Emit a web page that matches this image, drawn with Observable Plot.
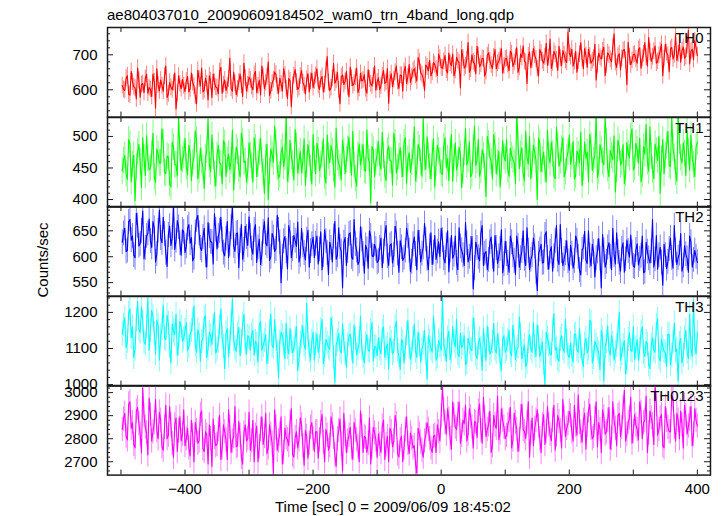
<!DOCTYPE html>
<html><head><meta charset="utf-8">
<script src="https://cdn.jsdelivr.net/npm/d3@7"></script>
<script src="https://cdn.jsdelivr.net/npm/@observablehq/plot@0.6"></script>
<style>
body{margin:0;background:#fff;}
#chart{position:relative;width:723px;height:516px;font-family:"Liberation Sans",Arial,sans-serif;color:#000;overflow:hidden;background:#fff}
.abs{position:absolute;white-space:nowrap;font-size:15px;line-height:15px;}
#chart svg{position:absolute;left:0;}
</style></head><body><div id="chart"></div>
<script>
const title = "ae804037010_20090609184502_wam0_trn_4band_long.qdp";
const xLabel = "Time [sec] 0 = 2009/06/09 18:45:02";
const yLabel = "Counts/sec";
const bandNames = ["TH0", "TH1", "TH2", "TH3", "TH0123"];
const bandColors = ["#ff0000", "#00ff00", "#0000ff", "#00ffff", "#ff00ff"];
// bins every 2 s: "A" arrays at -498, -494, ... 398 s; "B" arrays at -496, -492, ... 400 s
const timeStartA = -498, timeStartB = -496, timeStep = 4;
// typical 1-sigma error bar of a bin, per band (counts/sec)
const errBars = [24, 21, 24, 33, 53];

const th0A = [
612,598,640,585,622,605,662,579,618,633,590,601,645,548,614,628,596,668,588,607,620,545,639,603,611,
625,594,648,610,560,630,662,599,617,640,578,621,606,652,590,628,612,690,596,619,603,645,581,634,615,
628,600,652,611,585,638,620,680,597,629,644,590,617,660,603,632,552,641,622,607,655,612,630,594,648,
626,660,601,638,615,695,598,633,619,650,560,642,624,607,665,612,636,592,647,628,603,657,617,639,599,
634,611,655,622,562,646,629,668,604,641,652,618,672,636,660,625,680,643,598,665,684,650,672,641,690,
662,698,648,676,702,655,683,606,691,668,735,659,680,645,697,674,688,652,706,671,694,660,682,717,668,
690,655,703,678,720,664,692,681,618,708,686,699,660,715,683,694,670,745,677,701,655,690,712,684,765,
695,668,710,682,735,660,698,716,676,690,628,705,688,722,671,699,680,760,664,703,690,715,615,694,684,
702,676,720,690,735,668,708,694,725,681,712,640,730,698,716,688,758,703,679,722,695,770,710,686,720];
const th0B = [
601,633,588,652,609,574,627,615,592,644,606,581,623,660,597,612,639,578,621,600,648,590,617,629,595,
638,603,620,582,656,611,594,633,571,626,645,608,589,664,615,598,631,604,650,586,622,613,676,597,636,
609,644,592,627,668,603,637,584,619,651,610,633,597,642,575,626,613,658,601,639,620,588,646,624,606,
641,612,630,594,657,621,606,675,627,599,638,615,652,580,633,619,662,604,625,643,590,631,611,668,622,
600,640,618,661,628,609,650,623,642,596,667,637,621,655,641,692,649,632,671,654,640,678,659,702,663,
681,656,705,669,640,693,677,714,662,686,650,700,674,724,666,690,639,698,683,661,715,676,695,648,688,
672,711,667,693,650,702,725,679,697,663,718,688,640,705,676,733,692,661,710,686,724,669,700,678,705,
716,681,650,702,689,718,664,697,683,730,672,693,711,640,706,687,722,678,696,657,712,684,736,671,700,
688,715,662,703,693,749,681,710,676,698,730,689,706,652,721,700,684,733,712,690,727,674,716,740,698];
const th1A = [
445,470,432,488,455,398,476,460,498,438,465,450,505,427,472,458,490,441,467,420,483,455,532,446,470,
452,486,430,468,495,447,461,418,478,455,502,440,470,458,425,489,463,447,510,452,476,436,492,461,444,
470,428,482,456,497,443,466,400,480,459,490,434,474,452,535,447,468,431,485,460,443,496,455,472,425,
464,489,446,471,437,502,458,476,420,467,450,494,441,480,462,508,433,470,455,487,445,466,395,478,459,
492,448,470,430,484,461,505,442,468,455,490,426,474,459,515,447,481,437,466,499,452,473,420,486,461,
440,498,465,478,429,490,457,472,445,512,463,436,481,454,495,446,470,405,488,460,503,441,476,452,468,
495,437,470,458,540,449,482,430,467,500,455,476,400,489,463,447,510,458,472,433,486,461,498,444,475,
456,492,438,471,507,450,466,428,485,462,536,445,478,455,492,436,470,501,448,483,459,425,490,466,512,
451,479,497,440,472,460,515,447,488,462,410,495,470,508,452,481,443,540,466,490,438,476,502,455,483];
const th1B = [
462,441,495,428,470,452,487,419,466,501,447,473,436,480,458,512,443,469,425,491,455,438,478,463,497,
439,474,458,509,433,481,450,466,527,444,469,421,486,456,493,437,472,461,415,483,448,505,459,428,490,
453,498,436,475,462,410,488,445,471,516,451,439,483,467,429,494,457,511,442,476,460,423,487,449,503,
441,478,455,496,426,469,485,448,513,457,432,476,463,499,439,454,421,488,467,446,510,458,484,436,472,
457,506,439,477,462,423,490,451,482,436,498,464,443,475,430,487,459,528,448,470,433,496,457,477,442,
484,451,430,503,466,447,483,419,474,455,492,440,517,462,437,479,452,500,468,433,485,458,420,493,461,
447,481,463,425,490,472,441,508,456,433,486,462,497,444,475,428,469,491,438,514,453,480,436,466,502,
468,433,477,458,422,491,475,503,446,470,435,487,460,529,449,478,463,412,494,455,487,441,473,500,447,
489,458,428,484,519,445,469,433,477,500,464,441,485,454,530,467,429,492,458,473,509,447,465,436,491];
const th2A = [
628,655,612,672,640,598,660,625,688,617,645,630,668,590,650,636,676,608,642,622,705,631,657,603,648,
620,662,637,598,671,645,612,655,580,640,628,683,615,650,633,602,668,624,700,610,646,631,595,659,622,
640,605,662,618,585,648,626,675,600,637,615,652,550,630,611,660,598,641,620,590,655,607,633,580,624,
598,640,614,575,652,607,628,590,668,603,619,540,637,611,646,595,624,585,658,605,622,578,640,600,615,
592,636,610,660,583,625,603,645,570,618,598,655,612,590,638,575,627,606,664,596,620,585,641,610,600,
632,588,650,612,597,640,575,620,603,666,590,615,538,628,599,645,583,610,594,638,572,617,601,652,586,
605,570,628,592,640,580,611,596,656,575,603,620,535,614,588,642,598,610,572,630,594,662,583,607,591,
622,578,640,600,565,618,594,650,582,609,597,635,540,612,590,627,575,603,646,588,615,570,632,599,608,
580,625,596,640,571,610,588,672,595,576,618,545,603,590,636,578,612,598,645,583,605,570,628,594,600];
const th2B = [
645,610,667,632,603,684,621,650,596,640,673,618,655,605,690,627,644,581,659,637,614,670,626,652,608,
655,626,592,647,680,617,638,603,666,629,586,652,640,676,608,635,598,657,621,645,579,662,613,638,677,
616,652,589,634,605,668,621,593,645,610,680,628,600,639,577,646,615,631,667,603,622,594,651,611,638,
625,586,648,603,630,566,617,639,595,656,610,627,583,644,600,672,612,591,633,568,614,650,602,624,589,
617,579,644,601,622,588,659,606,631,593,612,640,571,624,605,651,590,618,633,575,646,608,595,629,655,
597,622,571,641,604,588,656,612,583,626,600,639,578,617,592,660,606,575,628,599,641,587,615,569,630,
588,640,603,566,621,597,650,583,612,594,636,570,605,624,589,648,576,619,601,660,585,611,596,631,574,
606,592,631,574,613,649,587,602,624,561,610,596,643,580,618,600,655,586,609,572,627,595,611,642,582,
613,584,602,569,628,597,611,580,641,603,589,624,577,615,598,660,585,606,572,621,597,640,580,612,589];
const th3A = [
1140,1185,1120,1210,1160,1098,1230,1145,1175,1112,1240,1150,1190,1085,1165,1135,1220,1125,1170,1060,1148,1195,1110,1160,1128,
1172,1105,1150,1218,1090,1138,1120,1185,1075,1145,1112,1200,1098,1160,1130,1045,1155,1118,1236,1102,1140,1080,1168,1115,1135,
1095,1150,1120,1062,1175,1108,1138,1090,1196,1102,1125,1020,1145,1112,1170,1085,1118,1100,1160,1070,1132,1110,1225,1092,1120,
1068,1140,1105,1180,1080,1115,1098,1155,1005,1122,1096,1168,1085,1110,1140,1060,1128,1100,1190,1078,1112,1095,1150,1065,1105,
1130,1085,1160,1100,1045,1118,1092,1175,1080,1125,1060,1140,1102,1088,1168,1075,1110,1098,1150,1015,1120,1090,1135,1078,1108,
1245,1095,1130,1070,1160,1105,1085,1142,1112,1055,1128,1098,1185,1082,1115,1100,1155,1068,1125,1092,1170,1088,1110,1040,1135,
1098,1150,1080,1120,1095,1188,1072,1110,1060,1138,1090,1105,1165,1078,1118,1002,1130,1085,1152,1096,1070,1125,1100,1180,1082,
1115,1062,1140,1090,1105,1050,1128,1098,1172,1075,1110,1088,1150,1010,1118,1095,1135,1068,1108,1200,1085,1122,1060,1142,1092,
1070,1125,1098,1160,1078,1112,1045,1130,1090,1182,1065,1105,1088,1140,1055,1118,1092,1010,1128,1080,1150,1072,1100,1235,1085];
const th3B = [
1165,1102,1198,1130,1075,1180,1152,1215,1118,1160,1095,1205,1142,1178,1068,1155,1128,1192,1105,1168,1138,1082,1175,1120,1150,
1095,1140,1178,1110,1152,1065,1128,1190,1100,1135,1162,1088,1120,1210,1106,1142,1078,1170,1125,1092,1158,1118,1195,1085,1130,
1138,1082,1112,1165,1095,1122,1058,1148,1108,1180,1090,1118,1135,1072,1102,1155,1088,1128,1040,1115,1162,1098,1130,1068,1145,
1112,1090,1152,1058,1125,1102,1185,1075,1110,1142,1088,1120,1048,1135,1098,1165,1082,1118,1100,1060,1138,1092,1172,1105,1080,
1098,1148,1075,1112,1130,1086,1160,1095,1042,1118,1102,1178,1070,1128,1092,1145,1062,1115,1085,1135,1100,1190,1068,1122,1095,
1110,1065,1148,1090,1120,1180,1078,1102,1135,1060,1115,1095,1150,1072,1128,1040,1108,1162,1085,1118,1098,1140,1066,1125,1090,
1122,1088,1165,1070,1105,1138,1092,1050,1118,1100,1172,1078,1130,1095,1058,1145,1110,1083,1196,1102,1065,1135,1090,1120,1075,
1080,1138,1095,1155,1070,1112,1088,1178,1060,1120,1098,1042,1130,1105,1162,1082,1115,1090,1145,1068,1108,1030,1125,1095,1160,
1102,1068,1145,1088,1120,1055,1110,1095,1165,1075,1125,1092,1050,1138,1082,1170,1098,1115,1060,1130,1090,1195,1078,1112,1145];
const th0123A = [
2840,2910,2795,2960,2870,2760,2935,2820,3020,2850,2730,2905,2830,2970,2800,2880,2750,2945,2815,2860,2720,2890,2835,2790,2925,
2800,2760,2880,2700,2835,2790,2920,2745,2815,2860,2680,2805,2775,2900,2760,2830,2710,2850,2790,2940,2770,2815,2690,2860,2800,
2750,2880,2815,2700,2840,2775,2910,2760,2820,2645,2850,2790,2895,2740,2805,2770,2930,2720,2830,2795,2860,2685,2810,2780,2870,
2745,2830,2795,2905,2700,2815,2770,2860,2730,2800,2885,2660,2820,2790,2850,2710,2835,2765,2920,2740,2805,2780,2690,2850,2795,
2820,2740,2880,2775,2700,2830,2790,2865,2720,2810,2760,2895,2735,2800,2770,2650,2820,2750,2790,2870,2800,2740,2815,2860,2790,
3025,2870,2930,2800,2960,2850,2905,2780,2880,2945,2820,2895,2760,2870,2920,2835,2980,2810,2860,2740,2900,2845,2795,2930,2850,
2815,2880,2760,2910,2840,2795,2950,2830,2870,2720,2890,2845,2925,2800,2860,2775,2940,2820,2880,2750,2900,2835,2970,2810,2865,
2900,2790,2860,2990,2830,2880,2755,2920,2845,2810,2960,2870,2740,2895,2830,2935,2800,2875,2770,2910,2850,3010,2820,2890,2780,
2905,2840,2960,2800,2880,2740,2920,2860,3030,2815,2890,2770,2940,2850,2830,2975,2790,2880,2920,2760,2900,2855,2940,2820,2880];
const th0123B = [
2885,2810,2950,2845,2775,2920,2865,2740,2900,2825,2975,2790,2870,2835,2915,2765,2850,2800,2940,2780,2860,2745,2895,2820,2770,
2845,2725,2815,2870,2780,2905,2755,2830,2690,2800,2885,2770,2840,2710,2860,2795,2925,2740,2810,2765,2875,2720,2825,2790,2915,
2790,2700,2855,2765,2895,2810,2735,2860,2780,2925,2750,2820,2690,2845,2795,2870,2730,2805,2760,2890,2770,2835,2715,2850,2800,
2830,2715,2870,2785,2840,2750,2895,2805,2680,2835,2775,2910,2740,2815,2760,2870,2795,2700,2855,2810,2740,2890,2765,2825,2720,
2775,2855,2710,2810,2845,2765,2900,2735,2795,2700,2840,2780,2825,2760,2690,2845,2785,2720,2815,2840,2760,2810,2740,2830,2900,
2925,2820,2885,2755,2900,2840,2960,2815,2865,2790,2930,2850,2875,2805,2950,2780,2890,2840,2920,2770,2860,2985,2825,2880,2800,
2860,2935,2795,2870,2745,2895,2840,2800,2960,2825,2770,2880,2855,2740,2905,2830,2860,2790,2945,2815,2875,2760,2890,2845,2920,
2830,2945,2815,2870,2785,2910,2860,2950,2800,2890,2765,2840,2925,2820,2880,2755,2960,2845,2900,2810,2935,2790,2870,2980,2830,
2860,2795,2915,2870,2985,2825,2890,2775,2950,2840,2905,2760,2880,2830,2990,2850,2910,2800,2860,2945,2820,2885,2770,2930,2855];

const xTicks = [-500, -400, -300, -200, -100, 0, 100, 200, 300, 400];
const xTickLabels = [-400, -200, 0, 200, 400];
const yTickLabels = [[600, 700], [400, 450, 500], [550, 600, 650], [1000, 1100, 1200], [2700, 2800, 2900, 3000]];

// display settings
const seriesA = [th0A, th1A, th2A, th3A, th0123A];
const seriesB = [th0B, th1B, th2B, th3B, th0123B];
const yDomains = [[522, 778], [388, 530], [524, 697], [996, 1244], [2642, 3031]];
const majorSteps = [100, 50, 50, 100, 100];
const minorSteps = [20, 10, 10, 20, 20];
const xDomain = [-521, 420.5];
const W = 723, ML = 107, MR = 13, PW = W - ML - MR;
const panelTops = [27, 116.6, 206.2, 295.8, 385.4];
const PH = 89.6;
const font = '"Liberation Sans", Arial, sans-serif';
const ink = "#1a1a1a";
const fmt = d => d < 0 ? "\u2212" + (-d) : String(d);

const chart = document.getElementById("chart");

function addText(txt, css) {
  const d = document.createElement("div");
  d.className = "abs";
  d.textContent = txt;
  Object.assign(d.style, css);
  chart.appendChild(d);
}
addText(title, {left: "107px", top: "7px"});
addText(xLabel, {left: "275px", top: "499px"});
addText(yLabel, {left: "42px", top: "260px", transform: "translate(-50%,-50%) rotate(-90deg)"});

seriesA.forEach((valsA, k) => {
  const last = k === seriesA.length - 1;
  const mt = 12, mb = last ? 34 : 12;
  const data = valsA.map((v, i) => ({t: timeStartA + i * timeStep, v}))
    .concat(seriesB[k].map((v, i) => ({t: timeStartB + i * timeStep, v})))
    .sort((a, b) => a.t - b.t);
  const e = errBars[k];
  const [y0, y1] = yDomains[k];
  const major = d3.range(Math.ceil(y0 / majorSteps[k]) * majorSteps[k], y1 + 1e-9, majorSteps[k]);
  const minor = d3.range(Math.ceil(y0 / minorSteps[k]) * minorSteps[k], y1 + 1e-9, minorSteps[k]).filter(v => !major.includes(v));
  const plot = Plot.plot({
    width: W, height: PH + mt + mb,
    marginLeft: ML, marginRight: MR, marginTop: mt, marginBottom: mb,
    style: {background: "transparent", overflow: "visible", fontFamily: font, fontSize: "15px", color: "#000"},
    x: {domain: xDomain, axis: null, label: null},
    y: {domain: yDomains[k], axis: null, label: null},
    marks: [
      Plot.ruleX(data, {x: "t", y1: d => d.v - e, y2: d => d.v + e, stroke: bandColors[k], strokeOpacity: 0.5, strokeWidth: 1, clip: true}),
      Plot.line(data, {x: "t", y: "v", stroke: bandColors[k], strokeWidth: 1.1, clip: true}),
      Plot.tickY(minor, {y: d => d, insetRight: PW - 3, stroke: ink}),
      Plot.tickY(minor, {y: d => d, insetLeft: PW - 3, stroke: ink}),
      Plot.tickY(major, {y: d => d, insetRight: PW - 6, stroke: ink}),
      Plot.tickY(major, {y: d => d, insetLeft: PW - 6, stroke: ink}),
      Plot.tickX(xTicks, {x: d => d, insetBottom: PH - 5, stroke: ink}),
      Plot.tickX(xTicks, {x: d => d, insetTop: PH - 5, stroke: ink}),
      Plot.axisY(yTickLabels[k], {anchor: "left", label: null, tickSize: 0, tickPadding: 10, fontSize: 15, fontVariant: "normal", tickFormat: fmt}),
      last ? Plot.axisX(xTickLabels, {anchor: "bottom", label: null, tickSize: 0, tickPadding: 8, fontSize: 15, fontVariant: "normal", tickFormat: fmt}) : null,
      Plot.frame({stroke: ink, strokeWidth: 1.5}),
      Plot.text([bandNames[k]], {text: d => d, frameAnchor: "top-right", textAnchor: "end", lineAnchor: "bottom", dx: -7, dy: 16, fontSize: 15, fill: "#000"})
    ]
  });
  plot.style.top = (panelTops[k] - mt) + "px";
  chart.appendChild(plot);
});
</script></body></html>
